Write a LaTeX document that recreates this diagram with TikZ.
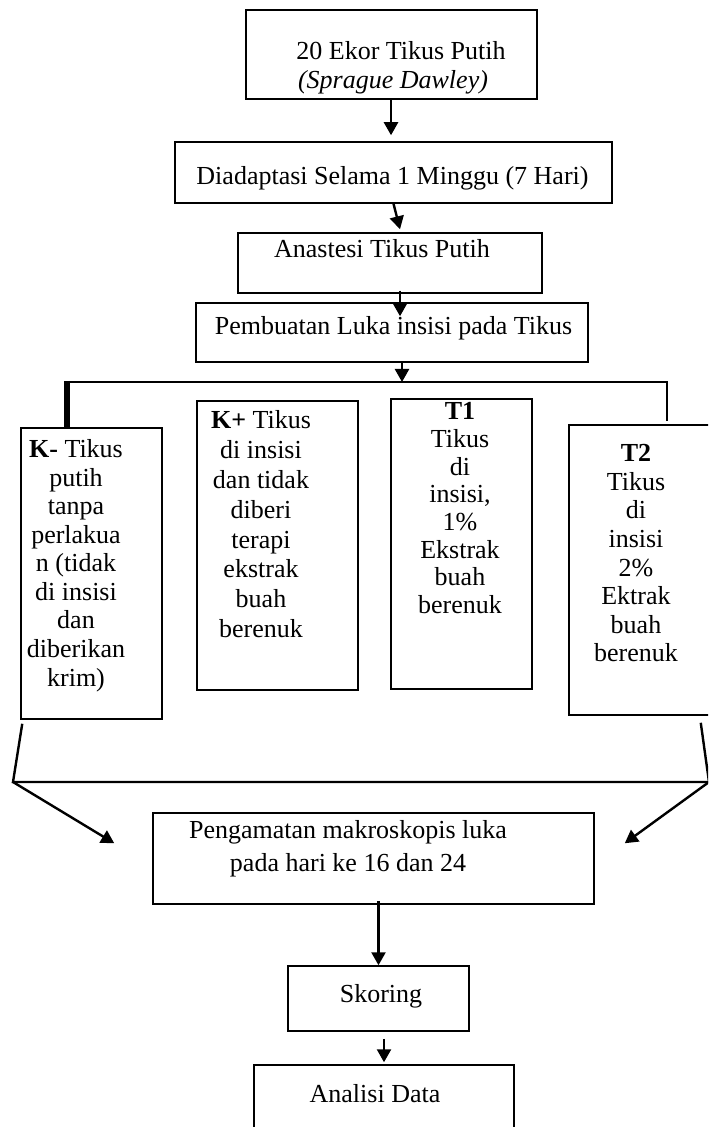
\documentclass[tikz,border=0pt]{standalone}
\usepackage{fontspec}
\setmainfont{Liberation Serif}
\usetikzlibrary{fit,calc,arrows.meta}
\begin{document}
\begin{tikzpicture}[x=0.5pt,y=-0.5pt,
  box/.style={draw, line width=0.75pt, inner sep=0pt},
  txt/.style={inner sep=0pt, anchor=base, font=\fontsize{13}{14.25}\selectfont},
  arr/.style={line width=1.2pt, -{Triangle[length=6.5pt,width=7pt]}},
  conn/.style={line width=1.2pt}]
\useasboundingbox (0,0) rectangle (708,1127);
\clip (0,0) rectangle (708,1127);
\fill[white] (0,0) rectangle (708,1127);

% boxes
\node[box, fit={(246,10)(537,99)}] (n1) {};
\node[box, fit={(175,142)(612,203)}] (n2) {};
\node[box, fit={(238,233)(542,293)}] (n3) {};
\node[box, fit={(196,303)(588,362)}] (n4) {};
\node[box, fit={(21,428)(162,719)}] (km) {};
\node[box, fit={(197,401)(358,690)}] (kp) {};
\node[box, fit={(391,399)(532,689)}] (t1) {};
\node[box, fit={(569,425)(715,715)}] (t2) {};
\node[box, fit={(153,813)(594,904)}] (obs) {};
\node[box, fit={(288,966)(469,1031)}] (sk) {};
\node[box, fit={(254,1065)(514,1145)}] (an) {};

% texts
\node[txt] (n1a) at (401,60) {20 Ekor Tikus Putih};
\node[txt] (n1b) at (393,89) {\itshape (Sprague Dawley)};
\node[txt] (n2a) at (392.5,185) {Diadaptasi Selama 1 Minggu (7 Hari)};
\node[txt] (n3a) at (382,258) {Anastesi Tikus Putih};
\node[txt] (n4a) at (393.5,335) {Pembuatan Luka insisi pada Tikus};
\node[txt] (kmt) at (76,458) {\begin{tabular}[t]{@{}c@{}}\textbf{K-} Tikus\\ putih\\ tanpa\\ perlakua\\ n (tidak\\ di insisi\\ dan\\ diberikan\\ krim)\end{tabular}};
\node[txt] (kpt) at (261,429) {\def\arraystretch{1.045}\begin{tabular}[t]{@{}c@{}}\textbf{K+} Tikus\\ di insisi\\ dan tidak\\ diberi\\ terapi\\ ekstrak\\ buah\\ berenuk\end{tabular}};
\node[txt] (t1t) at (460,420) {\def\arraystretch{0.97}\begin{tabular}[t]{@{}c@{}}\textbf{T1}\\ Tikus\\ di\\ insisi,\\ 1\%\\ Ekstrak\\ buah\\ berenuk\end{tabular}};
\node[txt] (t2t) at (636,462) {\begin{tabular}[t]{@{}c@{}}\textbf{T2}\\ Tikus\\ di\\ insisi\\ 2\%\\ Ektrak\\ buah\\ berenuk\end{tabular}};
\node[txt] (obst) at (348,838) {\def\arraystretch{1.19}\begin{tabular}[t]{@{}c@{}}Pengamatan makroskopis luka\\ pada hari ke 16 dan 24\end{tabular}};
\node[txt] (skt) at (381,1002) {Skoring};
\node[txt] (ant) at (375,1102) {Analisi Data};

% connectors
\draw[arr] ([xshift=-0.25pt]n1.south) -- ([xshift=-0.25pt,yshift=3pt]n1.south |- n2.north);
\draw[arr] (n2.south) -- ([xshift=5pt,yshift=1.5pt]n3.north);
\draw[arr] ([xshift=5pt,yshift=1.5pt]n3.south) -- ([xshift=5pt,yshift=-7pt]n3.south |- n4.north);

\coordinate (bl) at (67,382);
\coordinate (br) at (667,382);
\draw[arr] ([xshift=5pt]n4.south) -- ([xshift=5pt]n4.south |- bl);
\draw[line width=1.3pt] (bl) -- (br) -- ([yshift=1.5pt]br |- t2.north);
\draw[line width=3pt] ([yshift=0.6pt]bl) -- (bl |- km.north);

\coordinate (jl) at (13,782);
\coordinate (jr) at (709,782);
\draw[conn] ([xshift=1pt,yshift=-2pt]km.south west) -- (jl) -- (jr) -- ([xshift=-7.5pt,yshift=-3.5pt]t2.south east);
\draw[arr] (jl) -- ([xshift=-19pt,yshift=-15.5pt]obs.north west);
\draw[arr] (jr) -- ([xshift=15pt,yshift=-15.5pt]obs.north east);
\draw[arr] ([yshift=2pt]obs.south -| sk.north) -- (sk.north);
\draw[arr] ([yshift=-3.5pt]sk.south -| an.north) -- ([yshift=1pt]an.north);
\end{tikzpicture}
\end{document}
